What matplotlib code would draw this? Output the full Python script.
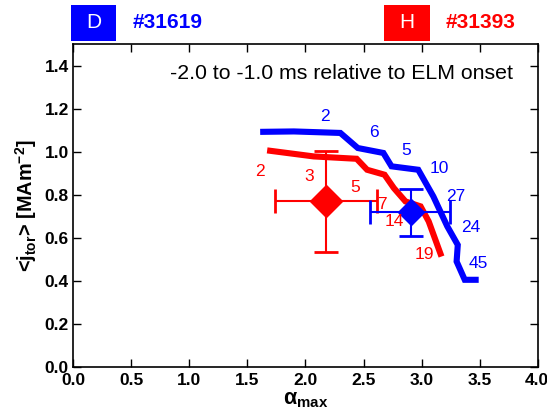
import matplotlib
matplotlib.use("Agg")
import matplotlib.pyplot as plt
from matplotlib.patches import Rectangle
from matplotlib.transforms import ScaledTranslation

plt.rcParams['font.family'] = ['Liberation Sans', 'DejaVu Sans']
plt.rcParams['mathtext.fontset'] = 'custom'
plt.rcParams['mathtext.rm'] = 'Liberation Sans'
plt.rcParams['mathtext.bf'] = 'Liberation Sans:bold'

# Deuterium discharge #31619: pedestal current vs. normalised pressure gradient
d_alpha = [1.61, 1.90, 2.30, 2.45, 2.67, 2.74, 2.97, 3.10, 3.22, 3.31, 3.30, 3.37, 3.49]
d_jtor = [1.092, 1.094, 1.087, 1.017, 0.994, 0.932, 0.916, 0.792, 0.653, 0.567, 0.490, 0.405, 0.405]
d_labels = ["2", "6", "5", "10", "27", "24", "45"]
d_label_x = [2.17, 2.59, 2.87, 3.15, 3.29, 3.42, 3.49]
d_label_y = [1.164, 1.087, 1.006, 0.921, 0.792, 0.648, 0.482]
d_mean = (2.91, 0.72)
d_xerr = ([2.91 - 2.555], [3.243 - 2.91])
d_yerr = ([0.72 - 0.609], [0.826 - 0.72])

# Hydrogen discharge #31393
h_alpha = [1.67, 2.07, 2.44, 2.53, 2.68, 2.76, 2.86, 2.99, 3.06, 3.17]
h_jtor = [1.006, 0.978, 0.967, 0.916, 0.893, 0.831, 0.769, 0.746, 0.676, 0.513]
h_labels = ["2", "3", "5", "7", "14", "19"]
h_label_x = [1.61, 2.03, 2.43, 2.66, 2.76, 3.02]
h_label_y = [0.908, 0.885, 0.834, 0.753, 0.676, 0.521]
h_mean = (2.18, 0.77)
h_xerr = ([2.18 - 1.738], [2.618 - 2.18])
h_yerr = ([0.77 - 0.535], [1.005 - 0.77])

xticks = [0.0, 0.5, 1.0, 1.5, 2.0, 2.5, 3.0, 3.5, 4.0]
yticks = [0.0, 0.2, 0.4, 0.6, 0.8, 1.0, 1.2, 1.4]

BLUE = "#0000ff"
RED = "#ff0000"

fig = plt.figure(figsize=(5.47, 4.18), dpi=100)
ax = fig.add_axes([0.1335, 0.122, 0.85, 0.7727])

ax.plot(h_alpha, h_jtor, color=RED, lw=4.4, solid_joinstyle='miter', solid_capstyle='butt', zorder=2)
ax.plot(d_alpha, d_jtor, color=BLUE, lw=4.4, solid_joinstyle='miter', solid_capstyle='butt', zorder=2)

ax.errorbar([h_mean[0]], [h_mean[1]], xerr=h_xerr, yerr=h_yerr, fmt='D', color=RED,
            ms=16, elinewidth=1.5, capsize=8.5, capthick=2, zorder=3)
ax.errorbar([d_mean[0]], [d_mean[1]], xerr=d_xerr, yerr=d_yerr, fmt='D', color=BLUE,
            ms=13.5, elinewidth=1.5, capsize=8.5, capthick=2, zorder=4)

for s, x, y in zip(h_labels, h_label_x, h_label_y):
    ax.text(x, y, s, color=RED, fontsize=12.5, ha='center', va='center', zorder=5)
for s, x, y in zip(d_labels, d_label_x, d_label_y):
    ax.text(x, y, s, color=BLUE, fontsize=12.5, ha='center', va='center', zorder=5)

ax.text(3.785, 1.363, "-2.0 to -1.0 ms relative to ELM onset",
        ha='right', va='center', fontsize=15.3, color='black')

ax.set_xlim(0, 4.0)
ax.set_ylim(0, 1.5)
ax.set_xticks(xticks)
ax.set_yticks(yticks)
ax.set_xticklabels([f"{v:.1f}" for v in xticks], fontweight='bold', fontsize=12.5)
ax.set_yticklabels([f"{v:.1f}" for v in yticks], fontweight='bold', fontsize=12.5)
ax.tick_params(direction='in', length=6, width=1, top=True, right=True)
ax.tick_params(axis='x', pad=4.5)
ax.tick_params(axis='y', pad=3)
# keep the last x label inside the canvas, flush with the right edge
last = ax.get_xticklabels()[-1]
last.set_horizontalalignment('right')
last.set_transform(last.get_transform() + ScaledTranslation(7.5 / 72, 0, fig.dpi_scale_trans))
for sp in ax.spines.values():
    sp.set_linewidth(1.2)

ax.set_xlabel(r"$\mathbf{\alpha}_{\mathbf{max}}$", fontsize=15.5, labelpad=0.5)
ax.set_ylabel(r"<j$_{\mathbf{tor}}$> [MAm$^{\mathbf{-2}}$]", fontsize=14.3, fontweight='bold', labelpad=4)

# Discharge legend above the frame
W, H = 547.0, 418.0
fig.patches.append(Rectangle((71 / W, 1 - 40.5 / H), 45.5 / W, 35.5 / H, transform=fig.transFigure,
                             facecolor=BLUE, edgecolor='none'))
fig.text(93.5 / W, 1 - 23 / H, "D", color='white', fontsize=15, ha='center', va='center')
fig.text(133 / W, 1 - 23 / H, "#31619", color=BLUE, fontsize=15, fontweight='bold', ha='left', va='center')
fig.patches.append(Rectangle((384 / W, 1 - 40.5 / H), 46 / W, 35.5 / H, transform=fig.transFigure,
                             facecolor=RED, edgecolor='none'))
fig.text(407 / W, 1 - 23 / H, "H", color='white', fontsize=15, ha='center', va='center')
fig.text(446 / W, 1 - 23 / H, "#31393", color=RED, fontsize=15, fontweight='bold', ha='left', va='center')

fig.savefig("out.png", dpi=100)
